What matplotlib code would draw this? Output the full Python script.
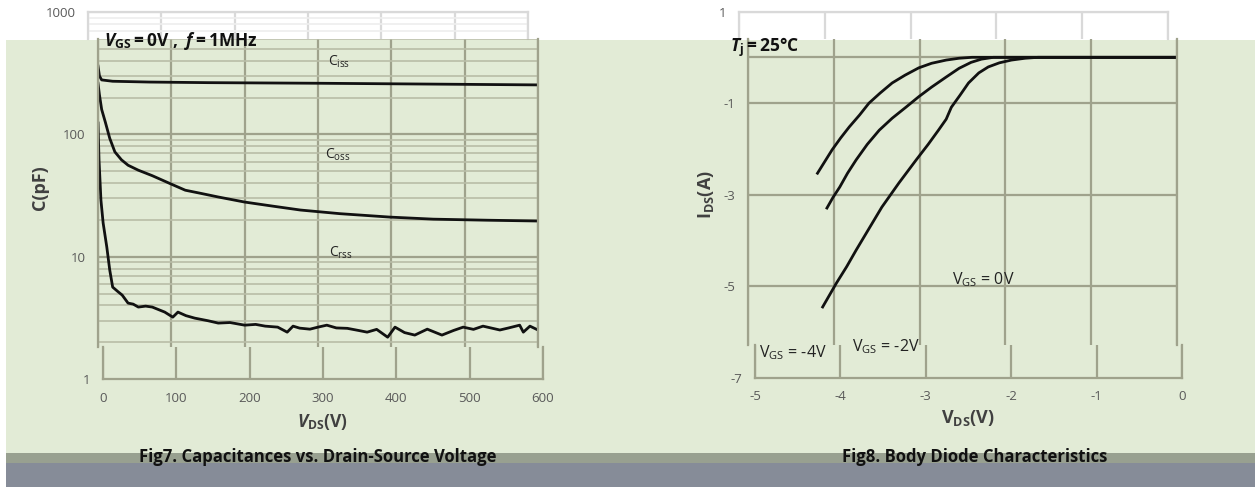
import matplotlib
matplotlib.use("Agg")
import matplotlib.pyplot as plt
from matplotlib.patches import Rectangle
from matplotlib.ticker import LogLocator, NullFormatter

plt.rcParams["font.family"] = ["Open Sans", "DejaVu Sans"]
plt.rcParams["mathtext.fontset"] = "custom"
plt.rcParams["mathtext.rm"] = "Open Sans"
plt.rcParams["mathtext.it"] = "Open Sans:italic"
plt.rcParams["mathtext.bf"] = "Open Sans:bold"
plt.rcParams["mathtext.bfit"] = "Open Sans:italic:bold"

# Fig7 data: capacitance (pF) vs drain-source voltage (V)
ciss_v = [0, 2, 5, 20, 70, 150, 300, 450, 600]
ciss_c = [362, 300, 279, 272, 268, 265, 262, 258, 254]

coss_v = [0, 2, 5, 10, 16, 23, 32, 41, 55, 74, 101, 119, 140, 164, 200, 237,
          276, 330, 398, 457, 530, 600]
coss_c = [262, 210, 160, 126, 93, 72, 62, 56, 51, 46, 39, 35, 33, 30.8, 28,
          26, 24.1, 22.5, 21.1, 20.3, 19.9, 19.6]

crss_v = [0, 1.4, 4, 7, 12, 16, 20, 27, 33, 41, 48, 55, 65, 74, 91, 102, 109,
          120, 132, 150, 164, 180, 200, 215, 228, 245, 258, 266, 275, 289,
          300, 312, 325, 340, 355, 367, 380, 395, 405, 418, 432, 449, 469,
          485, 498, 512, 525, 548, 560, 575, 580, 589, 600]
crss_c = [124, 61.8, 29, 18.9, 12, 7.8, 5.65, 5.2, 4.86, 4.18, 4.1, 3.88,
          3.95, 3.88, 3.53, 3.21, 3.53, 3.3, 3.15, 3.0, 2.87, 2.9, 2.76, 2.8,
          2.71, 2.66, 2.42, 2.71, 2.61, 2.56, 2.66, 2.76, 2.62, 2.6, 2.5,
          2.42, 2.55, 2.2, 2.66, 2.4, 2.29, 2.56, 2.29, 2.5, 2.66, 2.55, 2.71,
          2.52, 2.62, 2.76, 2.42, 2.71, 2.52]

# Fig8 data: body diode current (A) vs V_DS (V)
vgs_m4_v = [-4.19, -4.11, -4.02, -3.92, -3.82, -3.70, -3.59, -3.46, -3.32,
            -3.17, -3.01, -2.86, -2.69, -2.54, -2.39, -2.0, -1.0, 0]
vgs_m4_i = [-2.53, -2.29, -2.02, -1.76, -1.52, -1.26, -1.0, -0.78, -0.56,
            -0.39, -0.23, -0.13, -0.06, -0.02, 0, 0, 0, 0]

vgs_m2_v = [-4.08, -4.01, -3.93, -3.84, -3.74, -3.61, -3.47, -3.32, -3.16,
            -3.01, -2.86, -2.69, -2.54, -2.40, -2.28, -2.14, -1.0, 0]
vgs_m2_i = [-3.29, -3.06, -2.83, -2.53, -2.24, -1.90, -1.59, -1.33, -1.09,
            -0.86, -0.65, -0.43, -0.24, -0.11, -0.04, 0, 0, 0]

vgs_0_v = [-4.13, -4.05, -3.97, -3.85, -3.74, -3.59, -3.44, -3.24, -3.04,
           -2.90, -2.78, -2.69, -2.63, -2.53, -2.43, -2.31, -2.20, -2.07,
           -1.93, -1.77, -1.62, -1.0, 0]
vgs_0_i = [-5.45, -5.19, -4.93, -4.57, -4.21, -3.74, -3.27, -2.74, -2.24,
           -1.90, -1.59, -1.35, -1.09, -0.83, -0.56, -0.34, -0.21, -0.12,
           -0.06, -0.02, 0, 0, 0]

cap_ticks = [0, 100, 200, 300, 400, 500, 600]
vds_ticks = [-5, -4, -3, -2, -1, 0]

W, H = 1255, 487
GREEN = "#e2ebd6"
GRID = "#9fa28c"
MINOR = "#b9bda7"
LIGHT = "#d9d9d9"
TICK = "#595959"

fig = plt.figure(figsize=(W / 100, H / 100), dpi=100)


def box(x0, y0, x1, y1):
    return [x0 / W, 1 - y1 / H, (x1 - x0) / W, (y1 - y0) / H]


def band(x0, y0, x1, y1, color):
    fig.patches.append(Rectangle((x0 / W, 1 - y1 / H), (x1 - x0) / W, (y1 - y0) / H,
                                 transform=fig.transFigure, color=color,
                                 zorder=-5, lw=0))


def ftext(x, y, s, **kw):
    fig.text(x / W, 1 - y / H, s, **kw)


band(6, 40, W, 453, GREEN)
band(6, 453, W, 463, "#98a090")
band(6, 463, W, H, "#868c98")


def style(ax, color, minor_color=None, log=False):
    ax.set_facecolor("none")
    ax.tick_params(length=0, labelsize=9.5, colors=TICK, pad=9)
    ax.tick_params(which="minor", length=0)
    ax.grid(True, which="major", color=color, lw=1.6)
    if log and minor_color:
        ax.yaxis.set_minor_locator(LogLocator(base=10, subs=range(2, 10)))
        ax.yaxis.set_minor_formatter(NullFormatter())
        ax.grid(True, which="minor", axis="y", color=minor_color, lw=1.2)
    for s in ax.spines.values():
        s.set_color(color)
        s.set_linewidth(1.6)
    ax.set_axisbelow(True)


# ---------------- Fig7 ----------------
top = fig.add_axes(box(88, 12, 528, 39))
top.set_yscale("log")
top.set_xlim(0, 600)
top.set_ylim(602.6, 1000)
top.set_xticks(cap_ticks, [])
top.set_yticks([1000], ["1000"])
style(top, LIGHT, "#eeeeee", log=True)
top.spines["bottom"].set_visible(False)

ax1 = fig.add_axes(box(98, 39, 538, 347))
ax1.set_yscale("log")
ax1.set_xlim(0, 600)
ax1.set_ylim(1.83, 602.6)
ax1.set_xticks(cap_ticks, [])
ax1.set_yticks([10, 100], ["10", "100"])
style(ax1, GRID, MINOR, log=True)
ax1.spines["top"].set_visible(False)
ax1.spines["bottom"].set_visible(False)
for v, c in [(ciss_v, ciss_c), (coss_v, coss_c), (crss_v, crss_c)]:
    ax1.plot(v, c, color="#111111", lw=2.0, solid_joinstyle="round")

bot = fig.add_axes(box(103, 347, 543, 379))
bot.set_yscale("log")
bot.set_xlim(0, 600)
bot.set_ylim(1, 1.83)
bot.set_xticks(cap_ticks, [str(t) for t in cap_ticks])
bot.set_yticks([1], ["1"])
bot.yaxis.set_minor_locator(LogLocator(base=10, subs=[]))
style(bot, GRID)
bot.grid(False, axis="y")
bot.spines["top"].set_visible(False)

ftext(104, 41, r"$\mathbfit{V}_{\mathbf{GS}}\mathbf{=0V\ ,\ }\mathbfit{f}\mathbf{=1MHz}$",
      fontsize=12.5, color="#111111", va="center")
ftext(328, 62, r"C$_{\mathrm{iss}}$", fontsize=10, color="#222222", va="center")
ftext(325, 155, r"C$_{\mathrm{oss}}$", fontsize=10, color="#222222", va="center")
ftext(329, 253, r"C$_{\mathrm{rss}}$", fontsize=10, color="#222222", va="center")
ftext(40, 188, "C(pF)", fontsize=13, fontweight="bold", color="#404040",
      rotation=90, ha="center", va="center")
ftext(322, 422, r"$\mathbfit{V}_{\mathbf{DS}}\mathbf{(V)}$", fontsize=12.5,
      color="#404040", ha="center", va="center")
ftext(318, 457, "Fig7. Capacitances vs. Drain-Source Voltage", fontsize=12,
      fontweight="bold", color="#111111", ha="center", va="center")

# ---------------- Fig8 ----------------
top2 = fig.add_axes(box(739, 12, 1168, 39))
top2.set_xlim(-5, 0)
top2.set_ylim(0.41, 1)
top2.set_xticks(vds_ticks, [])
top2.set_yticks([1], ["1"])
style(top2, LIGHT)
top2.spines["bottom"].set_visible(False)

ax2 = fig.add_axes(box(748, 39, 1177, 345))
ax2.set_xlim(-5, 0)
ax2.set_ylim(-6.28, 0.40)
ax2.set_xticks(vds_ticks, [])
ax2.set_yticks([-1, -3, -5], ["-1", "-3", "-5"])
style(ax2, GRID)
ax2.axhline(0, color=GRID, lw=1.6, zorder=0.5)
ax2.spines["top"].set_visible(False)
ax2.spines["bottom"].set_visible(False)
for v, i in [(vgs_m4_v, vgs_m4_i), (vgs_m2_v, vgs_m2_i), (vgs_0_v, vgs_0_i)]:
    ax2.plot(v, i, color="#111111", lw=2.0, solid_joinstyle="round")

bot2 = fig.add_axes(box(755, 345, 1182, 378))
bot2.set_xlim(-5, 0)
bot2.set_ylim(-7, -6.28)
bot2.set_xticks(vds_ticks, [str(t) for t in vds_ticks])
bot2.set_yticks([-7], ["-7"])
style(bot2, GRID)
bot2.grid(False, axis="y")
bot2.spines["top"].set_visible(False)

ftext(730, 47, r"$\mathbfit{T}_{\mathbf{j}}\mathbf{=25}$°C", fontsize=12.5,
      fontweight="bold", color="#111111", va="center")
ftext(952, 280, r"V$_{\mathrm{GS}}$ = 0V", fontsize=11.5, color="#222222", va="center")
ftext(759, 353, r"V$_{\mathrm{GS}}$ = -4V", fontsize=11.5, color="#222222", va="center")
ftext(852, 347, r"V$_{\mathrm{GS}}$ = -2V", fontsize=11.5, color="#222222", va="center")
ftext(706, 195, r"I$_{\mathbf{DS}}$(A)", fontsize=13, fontweight="bold",
      color="#404040", rotation=90, ha="center", va="center")
ftext(968, 418, r"$\mathbf{V}_{\mathbf{DS}}\mathbf{(V)}$", fontsize=13,
      color="#404040", ha="center", va="center")
ftext(975, 457, "Fig8. Body Diode Characteristics", fontsize=12,
      fontweight="bold", color="#111111", ha="center", va="center")

fig.savefig("out.png", dpi=100)
